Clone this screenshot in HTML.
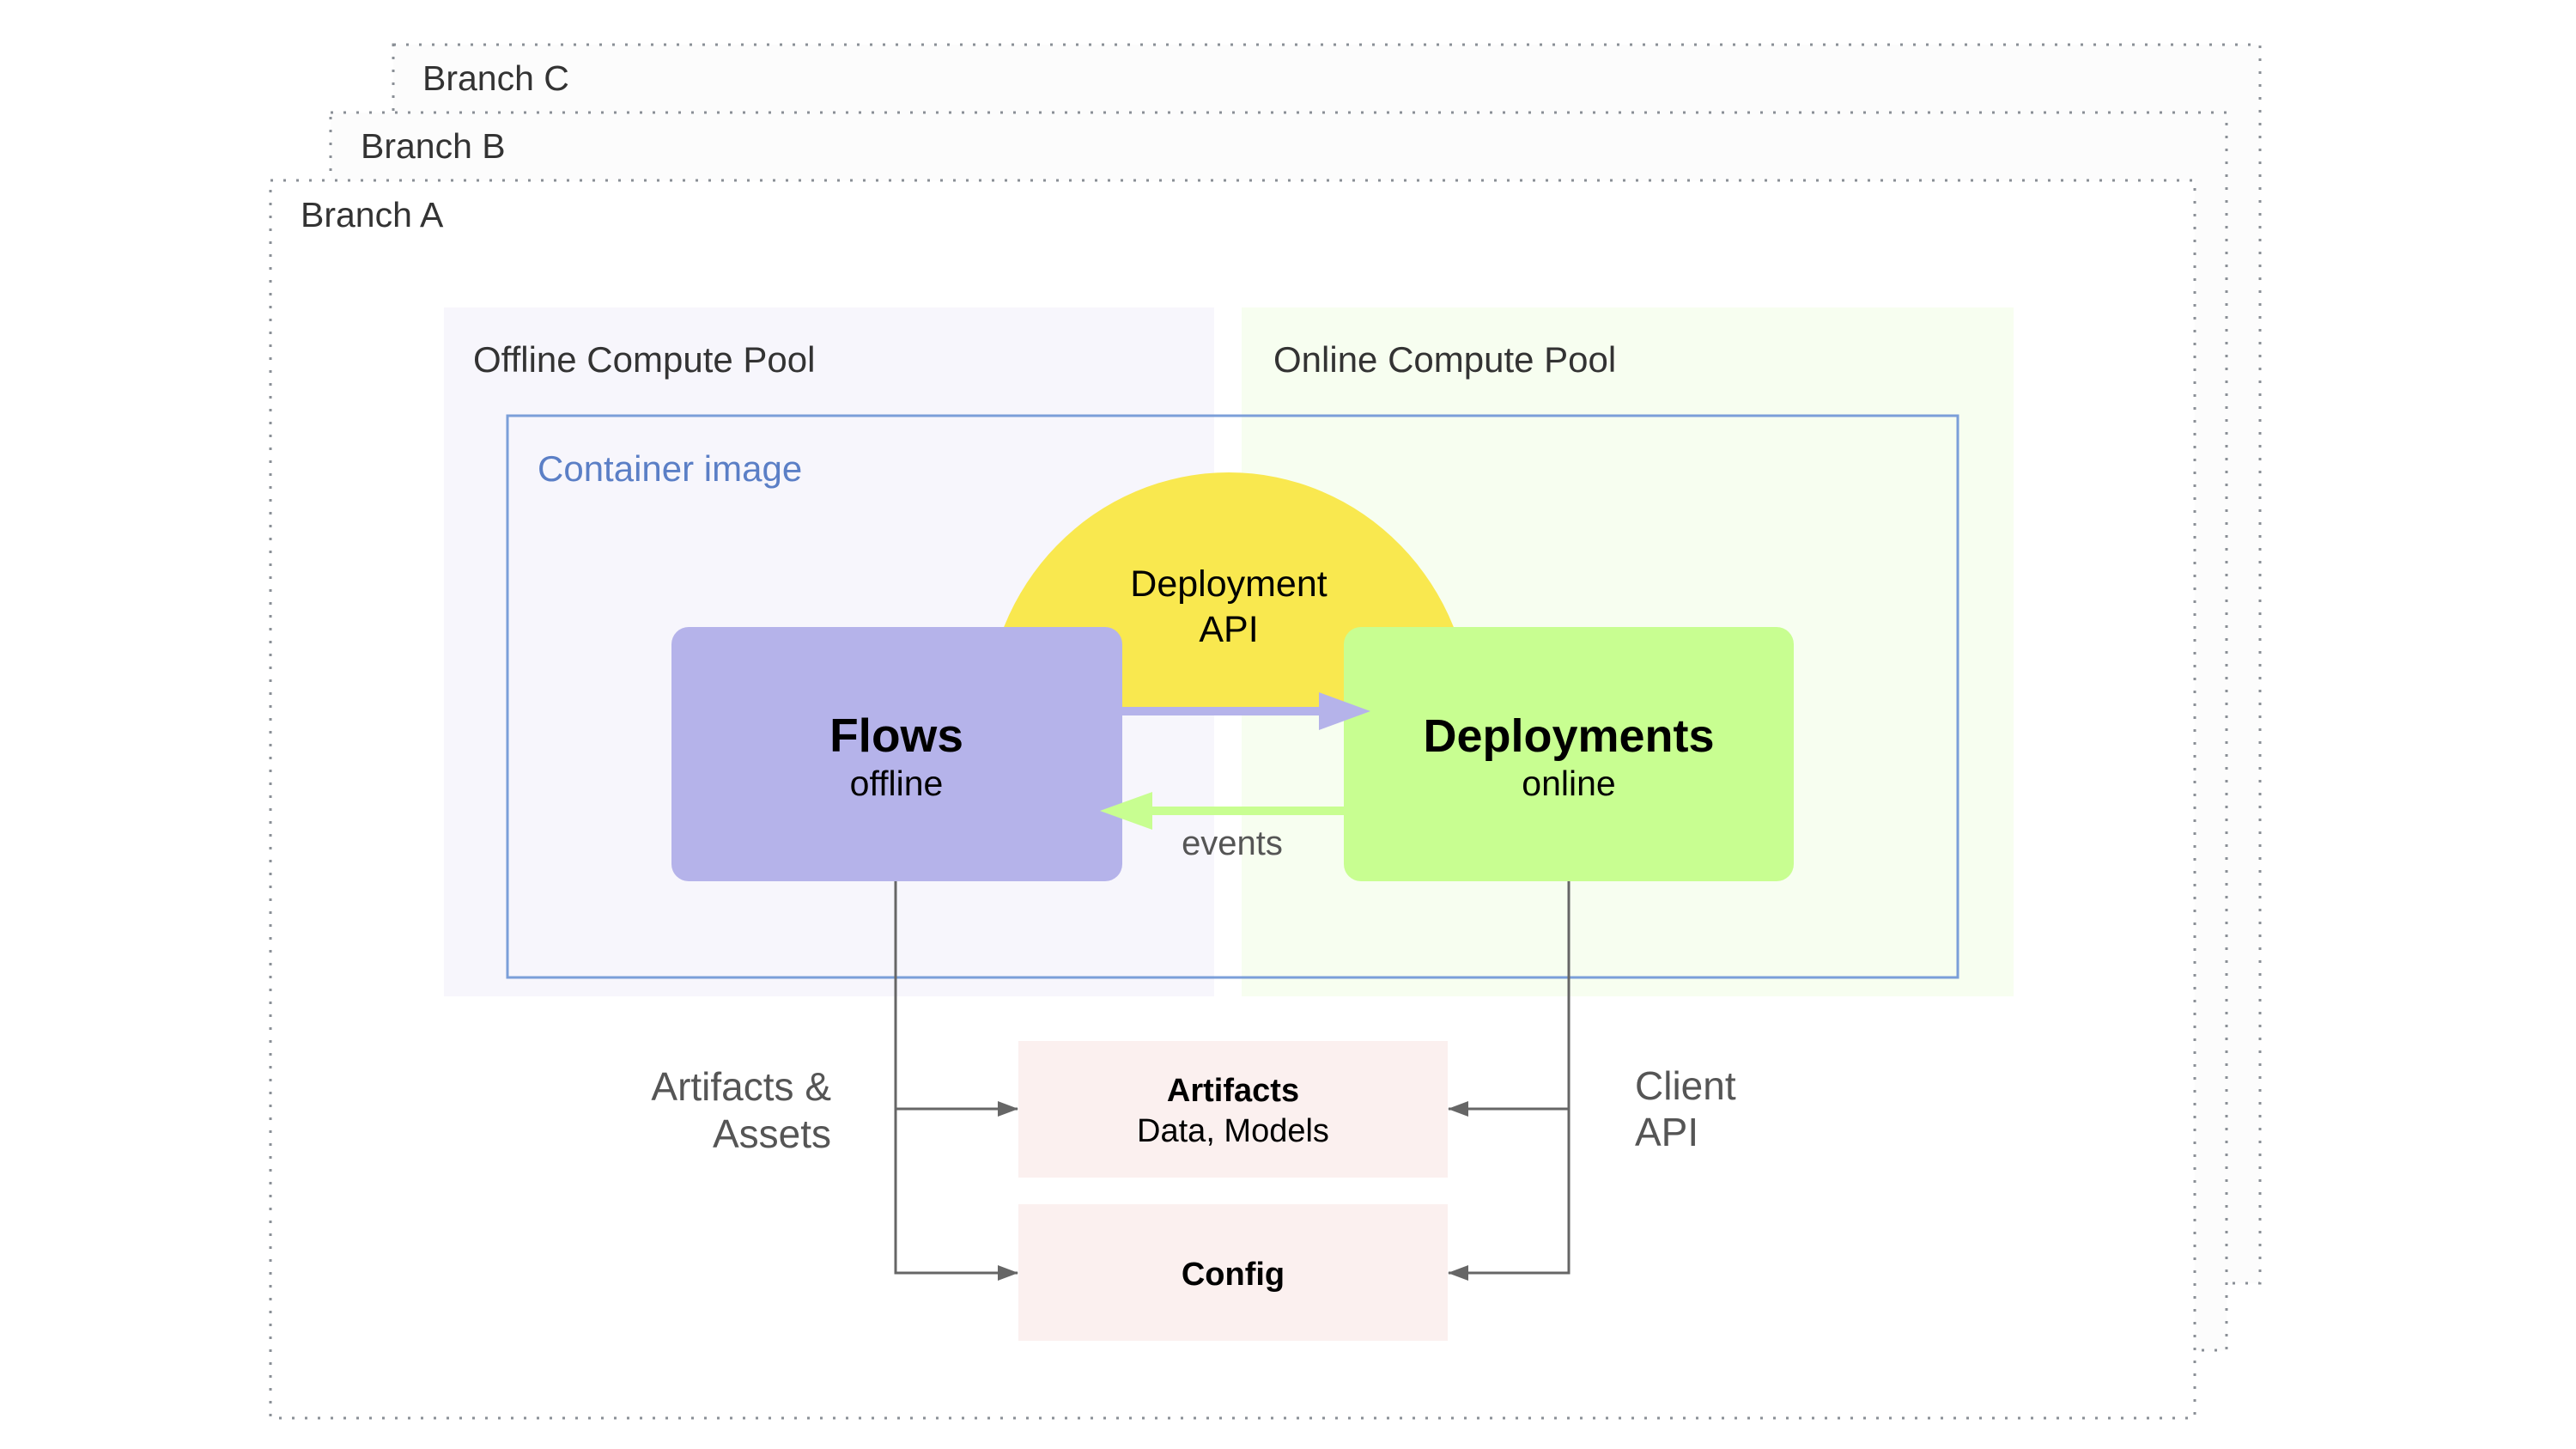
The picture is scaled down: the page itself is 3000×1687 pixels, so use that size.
<!DOCTYPE html>
<html><head><meta charset="utf-8"><style>
html,body{margin:0;padding:0;background:#fff}
svg{display:block}
text{font-family:"Liberation Sans",sans-serif}
</style></head><body>
<svg width="3000" height="1687" viewBox="0 0 3000 1687" xmlns="http://www.w3.org/2000/svg">
<defs>
<clipPath id="cl"><rect x="0" y="0" width="3000" height="828"/></clipPath>
<marker id="ah" markerWidth="24" markerHeight="18" refX="23" refY="9" orient="auto" markerUnits="userSpaceOnUse">
<path d="M0,0 L24,9 L0,18 Z" fill="#666"/></marker>
</defs>
<rect x="458" y="52" width="2174" height="1442" fill="#fcfcfc" stroke="#8a8f96" stroke-width="3" stroke-dasharray="3 12"/>
<rect x="385" y="131" width="2208" height="1441" fill="#fcfcfc" stroke="#8a8f96" stroke-width="3" stroke-dasharray="3 12"/>
<rect x="315" y="210" width="2241" height="1441" fill="#fff" stroke="#8a8f96" stroke-width="3" stroke-dasharray="3 12"/>
<text x="492" y="105" font-size="41" fill="#333">Branch C</text>
<text x="420" y="184" font-size="41" fill="#333">Branch B</text>
<text x="350" y="264" font-size="41" fill="#333">Branch A</text>
<rect x="517" y="358" width="897" height="802" fill="#f7f6fc"/>
<rect x="1446" y="358" width="899" height="802" fill="#f7fef0"/>
<text x="551" y="433" font-size="42" fill="#333">Offline Compute Pool</text>
<text x="1483" y="433" font-size="42" fill="#333">Online Compute Pool</text>
<rect x="591" y="484" width="1689" height="654" fill="none" stroke="#7b9fd9" stroke-width="3"/>
<text x="626" y="560" font-size="42" fill="#5b7fc6">Container image</text>
<ellipse cx="1431" cy="840" rx="283" ry="290" fill="#f9e84f" clip-path="url(#cl)"/>
<text x="1431" y="694" font-size="43" fill="#000" text-anchor="middle">Deployment</text>
<text x="1431" y="747" font-size="43" fill="#000" text-anchor="middle">API</text>
<rect x="782" y="730" width="525" height="296" rx="20" fill="#b5b3ea"/>
<rect x="1565" y="730" width="524" height="296" rx="20" fill="#c8fe91"/>
<rect x="1307" y="823" width="235" height="10" fill="#b5b3ea"/>
<path d="M1536,806 L1596,828 L1536,850 Z" fill="#b5b3ea"/>
<rect x="1336" y="939" width="229" height="10" fill="#c8fe91"/>
<path d="M1342,922 L1281,944 L1342,966 Z" fill="#c8fe91"/>
<text x="1044" y="875" font-size="55" font-weight="bold" fill="#000" text-anchor="middle">Flows</text>
<text x="1044" y="926" font-size="41" fill="#000" text-anchor="middle">offline</text>
<text x="1827" y="875" font-size="54" font-weight="bold" fill="#000" text-anchor="middle">Deployments</text>
<text x="1827" y="926" font-size="41" fill="#000" text-anchor="middle">online</text>
<text x="1435" y="995" font-size="40" fill="#555" text-anchor="middle">events</text>
<rect x="1186" y="1212" width="500" height="159" fill="#fbf0ef"/>
<rect x="1186" y="1402" width="500" height="159" fill="#fbf0ef"/>
<text x="1436" y="1282" font-size="38" font-weight="bold" fill="#000" text-anchor="middle">Artifacts</text>
<text x="1436" y="1329" font-size="38" fill="#000" text-anchor="middle">Data, Models</text>
<text x="1436" y="1496" font-size="38" font-weight="bold" fill="#000" text-anchor="middle">Config</text>
<g stroke="#666" stroke-width="3" fill="none">
<path d="M1043,1026 V1482 H1185" marker-end="url(#ah)"/>
<path d="M1043,1291 H1185" marker-end="url(#ah)"/>
<path d="M1827,1026 V1482 H1687" marker-end="url(#ah)"/>
<path d="M1827,1291 H1687" marker-end="url(#ah)"/>
</g>
<text x="968" y="1281" font-size="46" fill="#555" text-anchor="end">Artifacts &amp;</text>
<text x="968" y="1336" font-size="46" fill="#555" text-anchor="end">Assets</text>
<text x="1904" y="1280" font-size="46" fill="#555">Client</text>
<text x="1904" y="1334" font-size="46" fill="#555">API</text>
</svg>
</body></html>
